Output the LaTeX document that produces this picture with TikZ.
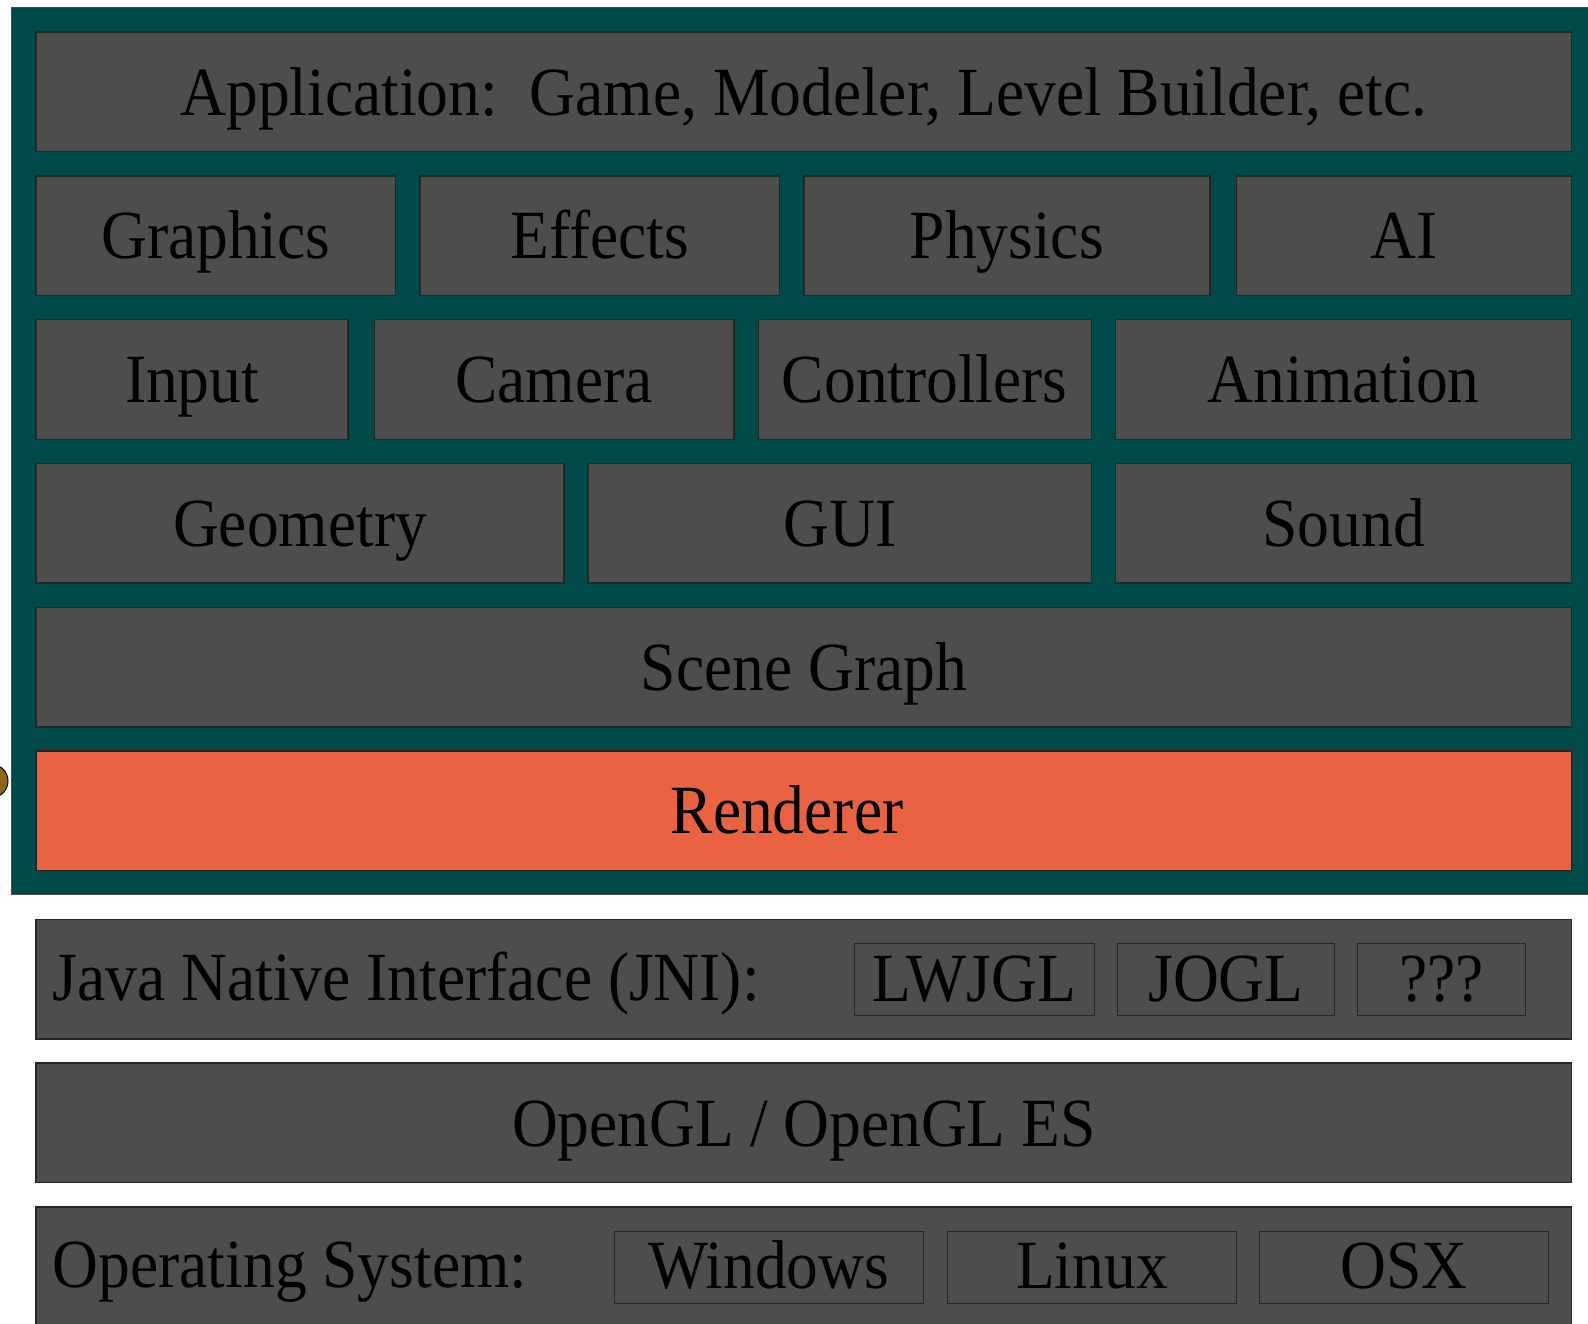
\documentclass[tikz,border=0pt]{standalone}
\usepackage{fontspec}
\usetikzlibrary{shapes.geometric}
\setmainfont[FakeStretch=0.92]{Liberation Serif}
\definecolor{panelteal}{RGB}{0,73,73}
\definecolor{layergray}{RGB}{77,77,77}
\definecolor{renderorange}{RGB}{233,98,65}
\definecolor{blobbrown}{RGB}{140,105,25}
\newcommand{\layerfont}{\fontsize{69}{80}\selectfont}

\begin{document}
\begin{tikzpicture}[x=1pt,y=-1pt,
  layer/.style={draw=black!85, line width=1.4pt, fill=layergray, inner sep=0pt,
    anchor=north west, minimum height=119.5pt, text height=48pt, text depth=1.5pt,
    font=\layerfont},
  slot/.style={draw=black!85, line width=1.2pt, fill=layergray, inner sep=0pt,
    anchor=north west, minimum height=72pt, text height=45pt, text depth=2pt,
    font=\layerfont},
  caption/.style={inner sep=0pt, font=\layerfont},
]
\useasboundingbox (0,0) rectangle (1588,1324);
\clip (0,0) rectangle (1588,1324);
\fill[white] (0,0) rectangle (1588,1324);

% engine panel
\node[draw=black!70, line width=1pt, fill=panelteal, inner sep=0pt, anchor=north west,
  minimum width=1590pt, minimum height=887pt] (panel) at (11,7) {};
\node[draw=black, line width=1pt, fill=blobbrown, ellipse, inner sep=0pt,
  minimum width=30pt, minimum height=32pt] (blob) at (-7,781) {};

% application layer
\node[layer, minimum width=1535.6pt] (app) at (35.4,31.4) {Application:\ \ Game, Modeler, Level Builder, etc.};

% subsystems
\node[layer, minimum width=359.6pt] (graphics) at (35.4,175.2) {Graphics};
\node[layer, minimum width=359.5pt] (effects) at (419.3,175.2) {Effects};
\node[layer, minimum width=406.1pt] (physics) at (803.1,175.2) {Physics};
\node[layer, minimum width=335.4pt] (ai) at (1235.6,175.2) {AI};

\node[layer, minimum width=312pt] (input) at (35.4,319) {Input};
\node[layer, minimum width=359.5pt] (camera) at (373.7,319) {Camera};
\node[layer, minimum width=333.2pt] (controllers) at (757.5,319) {Controllers};
\node[layer, minimum width=456pt] (animation) at (1115,319) {Animation};

\node[layer, minimum width=527.7pt] (geometry) at (35.4,462.8) {Geometry};
\node[layer, minimum width=503.3pt] (gui) at (587.4,462.8) {GUI};
\node[layer, minimum width=456pt] (sound) at (1115,462.8) {Sound};

\node[layer, minimum width=1535.6pt] (scene) at (35.4,606.6) {Scene Graph};

\node[layer, fill=renderorange, minimum width=1535.6pt] (renderer) at (35.4,750.4) {};
\node[caption, anchor=base] (renderertext) at (787,833) {Renderer};

% platform layers
\node[layer, minimum width=1535.6pt] (jni) at (35.4,918.6) {};
\node[caption, anchor=base west] (jnitext) at (52.7,1000.6) {Java Native Interface (JNI):};
\node[slot, minimum width=240pt] (lwjgl) at (853.8,942.9) {LWJGL};
\node[slot, minimum width=216.8pt] (jogl) at (1117,942.9) {JOGL};
\node[slot, minimum width=168pt] (other) at (1357.1,942.9) {???};

\node[layer, minimum width=1535.6pt] (opengl) at (35.4,1062.4) {OpenGL / OpenGL ES};

\node[layer, minimum width=1535.6pt] (os) at (35.4,1206.2) {};
\node[caption, anchor=base west] (ostext) at (52.7,1287.2) {Operating System:};
\node[slot, minimum width=308.9pt] (windows) at (613.7,1230.5) {Windows};
\node[slot, minimum width=288.6pt] (linux) at (947,1230.5) {Linux};
\node[slot, minimum width=288.6pt] (osx) at (1258.9,1230.5) {OSX};
\end{tikzpicture}
\end{document}
